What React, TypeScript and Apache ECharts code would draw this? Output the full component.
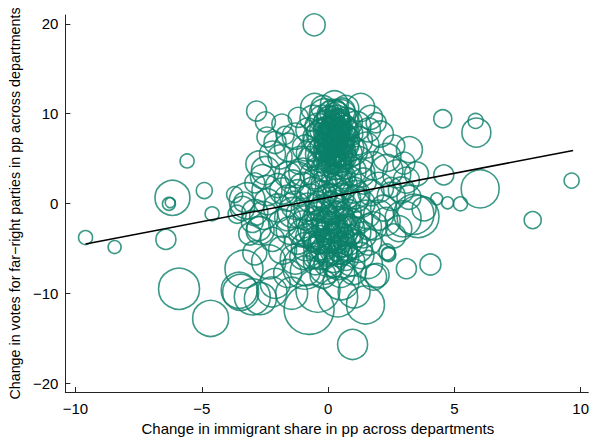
import React, { useEffect, useRef } from "react";
import * as echarts from "echarts";

// Each point: [change in immigrant share (pp), change in far-right vote (pp), department weight]
const outlierDepts: number[][] = [
  [-9.6, -3.8, 7], [-8.45, -4.85, 6.5], [-6.42, -4.0, 10], [-5.58, 4.74, 7], [-4.9, 1.44, 8],
  [-4.59, -1.15, 7], [-6.16, 0.63, 17.5], [-6.3, -0.04, 6.5], [-6.25, 0.1, 5], [-5.9, -9.5, 20.5],
  [-4.65, -12.8, 18], [-0.55, 19.9, 11], [4.54, 9.44, 9], [5.84, 9.2, 7.5], [5.87, 7.9, 14.5],
  [3.22, 6.0, 13], [4.58, 3.19, 10], [6.02, 1.63, 19], [9.64, 2.55, 7.5], [8.1, -1.85, 8.5],
  [4.73, 0.08, 6], [5.24, -0.04, 7], [4.3, 0.52, 6], [3.1, -7.26, 10], [4.05, -6.8, 10.5],
  [2.4, -5.7, 7], [3.56, -1.45, 21], [0.97, -15.7, 15], [1.48, -11.3, 19], [-0.75, -11.8, 25],
  [-3.46, -9.9, 18], [-2.68, -10.6, 16], [-3.33, -7.3, 19], [-3.52, -9.67, 18],
];

const coreTopDepts: number[][] = [
  [0.0, 7.0, 14], [0.2, 7.5, 15], [0.4, 6.8, 13], [0.1, 8.2, 12], [0.3, 8.8, 14], [-0.2, 6.2, 13],
  [0.5, 5.8, 15], [0.0, 5.5, 12], [0.25, 6.3, 16], [0.6, 7.6, 13], [-0.1, 9.0, 12], [0.35, 9.5, 13],
  [0.1, 10.2, 11], [0.55, 8.5, 14], [-0.3, 7.8, 14], [0.15, 4.8, 13], [0.45, 4.5, 12], [-0.25, 5.0, 14],
  [0.7, 6.5, 13], [0.05, 6.6, 15], [0.3, 7.1, 12], [-0.4, 8.6, 13], [0.8, 9.0, 14], [0.2, 9.8, 16],
  [0.65, 5.2, 12], [-0.15, 3.9, 13], [0.4, 3.6, 14], [0.9, 7.8, 12], [-0.5, 6.9, 12], [0.1, 7.9, 17],
  [0.5, 9.9, 15], [-0.05, 8.5, 11], [0.35, 5.3, 11], [0.75, 4.2, 13], [-0.35, 4.4, 12], [0.0, 3.3, 14],
  [0.6, 3.0, 12], [1.0, 5.8, 14], [1.1, 8.6, 15], [-0.6, 9.5, 13], [0.25, 11.0, 14], [0.7, 10.6, 13],
  [-0.2, 10.7, 12], [1.2, 7.0, 14], [-0.7, 5.6, 14], [0.45, 2.5, 13], [0.95, 3.6, 14], [-0.45, 2.8, 13],
];

const coreTopExtraDepts: number[][] = [
  [0.05, 7.3, 13], [0.15, 6.9, 14], [0.35, 7.9, 13], [0.45, 7.2, 15], [-0.05, 7.6, 12], [0.25, 8.5, 13],
  [0.4, 9.1, 12], [0.2, 5.9, 14], [0.55, 6.4, 12], [0.1, 5.1, 15], [0.3, 4.2, 14], [-0.1, 6.0, 12],
  [0.6, 8.0, 16], [0.0, 8.8, 15], [0.35, 10.0, 12], [-0.2, 9.4, 14], [0.7, 9.4, 12], [0.5, 4.9, 13],
  [-0.3, 5.5, 15], [0.15, 3.8, 15], [0.8, 5.5, 14], [0.65, 7.0, 15], [-0.4, 7.3, 15], [0.3, 6.0, 17],
  [0.1, 9.3, 14], [0.45, 8.3, 11], [0.2, 7.0, 10], [0.0, 6.3, 11], [0.55, 10.3, 13], [-0.15, 10.0, 15],
  [0.9, 6.2, 13], [0.25, 4.6, 12], [-0.25, 8.2, 12], [0.75, 8.2, 11], [0.4, 5.6, 14], [0.05, 4.3, 12],
];

const coreTopDenseDepts: number[][] = [
  [0.12, 7.15, 9], [0.28, 7.65, 10], [0.38, 6.45, 9], [0.18, 8.55, 10], [0.48, 7.85, 9], [0.08, 6.15, 10],
  [0.32, 5.65, 9], [0.52, 8.95, 10], [0.22, 9.05, 9], [-0.02, 7.95, 10], [0.42, 6.05, 11], [0.62, 6.85, 10],
  [0.15, 5.45, 11], [0.35, 8.25, 8], [0.05, 8.35, 9], [-0.12, 6.75, 10], [0.58, 5.35, 10], [0.25, 4.95, 10],
  [0.45, 9.55, 9], [0.02, 9.65, 11], [0.7, 7.95, 9], [0.3, 10.45, 10], [-0.18, 5.75, 9], [0.5, 4.25, 11],
  [0.22, 7.35, 12], [0.38, 7.05, 11], [0.12, 7.75, 11], [0.28, 6.75, 12],
  [0.18, 6.55, 7], [0.33, 7.35, 6], [0.24, 8.05, 7], [0.42, 8.65, 6], [0.1, 5.85, 7], [0.47, 6.55, 7],
  [0.28, 5.25, 8], [0.06, 7.05, 6], [0.54, 7.45, 7], [0.16, 9.45, 8], [0.36, 9.85, 7], [-0.05, 8.15, 7],
  [0.62, 8.25, 8], [0.2, 4.45, 8], [0.4, 4.85, 7], [0.02, 5.25, 8],
];

const leftUpperDepts: number[][] = [
  [-2.83, 10.3, 10], [-2.48, 9.1, 10], [-2.42, 7.4, 10], [-2.74, 4.4, 13], [-2.48, 3.67, 14],
  [-1.83, 8.85, 10], [-1.57, 6.26, 14], [-1.18, 9.6, 10], [-0.53, 10.7, 14], [-1.3, 7.5, 13],
  [-1.9, 5.2, 12], [-1.1, 4.8, 14], [-1.6, 3.2, 13], [-0.9, 6.2, 13], [-1.4, 2.4, 12],
  [-2.1, 6.8, 11], [-0.8, 8.2, 12], [-1.0, 3.5, 14], [-2.0, 2.0, 12], [-1.7, 7.6, 9],
  [-2.2, 5.5, 13], [-0.7, 5.0, 12], [-1.2, 1.2, 13],
];

const rightUpperDepts: number[][] = [
  [2.07, 7.74, 13], [1.68, 9.6, 12], [1.29, 10.7, 14], [2.33, 5.14, 14], [2.72, 3.3, 14],
  [2.33, 3.67, 16], [3.5, 3.3, 12], [1.5, 6.5, 13], [1.8, 4.2, 14], [1.4, 2.5, 13],
  [2.0, 1.8, 15], [1.6, 8.2, 12], [2.6, 6.4, 11], [1.2, 4.8, 14], [2.9, 1.5, 13],
  [1.9, 9.0, 10], [3.0, 4.5, 11], [1.1, 1.0, 14], [2.5, 0.8, 14],
];

const leftMidDepts: number[][] = [
  [-3.2, 0.3, 18], [-3.33, 0.15, 10], [-3.39, -0.55, 12], [-2.55, -1.33, 14], [-2.74, -2.8, 12],
  [-2.42, 1.44, 15], [-2.69, -3.0, 14], [-3.6, -1.2, 9], [-2.0, -0.5, 14], [-1.6, 0.6, 13],
  [-1.8, -2.2, 14], [-3.0, -2.0, 11], [-2.2, -4.0, 12], [-1.4, -1.0, 15], [-3.7, 1.0, 8],
  [-2.9, 2.3, 10], [-2.9, -1.0, 13], [-3.1, -3.4, 11], [-2.6, 3.0, 12],
];

const coreLowDepts: number[][] = [
  [0.0, 0.5, 15], [0.3, -0.5, 14], [-0.3, -1.2, 16], [0.5, -2.0, 15], [0.1, -2.8, 14], [-0.5, -3.4, 15],
  [0.4, -3.8, 16], [0.8, -1.0, 13], [-0.8, -0.4, 14], [-1.0, -2.5, 15], [0.9, -3.0, 14], [-0.2, -4.6, 15],
  [0.6, -5.2, 14], [-0.7, -5.5, 16], [0.2, -6.0, 15], [1.0, -4.5, 14], [-1.2, -4.2, 13], [0.0, -1.8, 12],
  [0.35, 1.2, 14], [-0.6, 1.5, 13], [0.7, 0.4, 15], [-0.4, 0.0, 12], [1.2, -1.8, 14], [-1.3, -6.2, 15],
  [0.9, -6.5, 14], [-0.1, -7.2, 16], [0.5, -7.8, 14], [-0.9, -7.5, 15], [1.3, -5.8, 13], [0.15, -3.3, 17],
  [-0.15, 2.2, 13], [0.6, 2.0, 14], [1.4, -3.5, 13], [-1.5, -3.0, 14], [0.3, -4.2, 12], [-0.35, -2.2, 13],
  [0.75, -2.5, 12], [1.1, 0.5, 13], [-0.9, -1.6, 12], [0.05, -5.4, 13], [-0.5, -6.6, 12], [1.0, -7.6, 13],
];

const coreLowExtraDepts: number[][] = [
  [0.1, -0.2, 14], [0.4, -1.4, 15], [-0.1, -2.4, 14], [0.2, -3.6, 13], [0.6, -3.0, 15], [-0.4, -4.0, 14],
  [0.3, -5.0, 16], [-0.3, -5.8, 14], [0.7, -6.0, 13], [0.0, -6.6, 14], [-0.6, -2.8, 15], [0.9, -2.0, 13],
  [-0.2, -0.6, 14], [0.5, 0.8, 13], [-0.7, 0.6, 14], [0.2, 1.6, 15], [-0.5, -1.8, 13], [0.8, -4.2, 14],
  [-0.9, -4.8, 14], [0.4, -6.8, 15], [-0.2, -8.0, 13], [0.6, -4.6, 12], [-0.1, -3.8, 16], [0.25, -2.2, 17],
  [-0.8, -3.6, 12], [1.1, -3.2, 15], [-1.1, -1.2, 14], [0.0, -4.2, 11], [0.45, -5.6, 13], [-0.45, -5.0, 13],
  [1.2, -5.0, 14], [-1.0, -5.9, 13], [0.15, -1.0, 12], [-0.25, 1.0, 14], [0.65, -0.2, 12], [1.0, 1.5, 13],
  [-1.0, 2.0, 13], [0.3, 2.6, 14], [-0.55, 3.2, 14], [0.8, 2.8, 13],
];

const coreLowDenseDepts: number[][] = [
  [0.05, -1.3, 10], [0.35, -2.6, 11], [-0.15, -3.1, 10], [0.55, -3.5, 11], [0.15, -4.4, 10], [-0.35, -4.4, 11],
  [0.45, -4.9, 10], [0.0, -5.8, 11], [-0.25, -1.6, 11], [0.65, -1.6, 10], [0.25, 0.3, 11], [-0.45, -0.8, 10],
  [0.85, -3.6, 11], [-0.6, -4.2, 10], [0.2, -7.0, 11], [0.75, -5.4, 10], [-0.55, -6.0, 11], [0.1, -2.0, 9],
  [0.4, -0.9, 10], [-0.05, 0.9, 10], [0.3, -3.0, 12], [-0.2, -5.2, 12],
  [0.2, -2.9, 7], [0.5, -4.2, 8], [-0.1, -4.0, 7], [0.35, -5.6, 8], [0.6, -2.3, 7], [-0.3, -2.6, 8],
];

const midRingDepts: number[][] = [
  [-1.3, -0.2, 14], [1.3, 0.0, 14], [-1.6, -1.6, 13], [1.5, -1.2, 14], [-1.2, 3.2, 13], [1.3, 3.4, 14],
  [-1.8, 1.4, 13], [1.7, 1.2, 13], [-2.4, 0.2, 13], [2.3, -2.0, 14], [-1.0, -3.3, 14], [1.6, -2.6, 13],
];

const lowerDepts: number[][] = [
  [-0.92, -7.1, 22], [-2.35, -6.5, 17], [-2.22, -9.85, 15], [-3.0, -10.4, 18], [-2.09, -8.9, 15],
  [-0.4, -9.67, 22], [0.38, -10.4, 20], [1.8, -8.2, 13], [1.03, -9.85, 16], [1.94, -8.0, 12],
  [0.51, -8.74, 18], [-1.44, -10.0, 16], [-1.6, -7.8, 14], [-2.9, -5.5, 12], [-1.8, -5.2, 14],
  [2.39, -5.6, 7], [1.6, -6.8, 14],
];

const rightMidDepts: number[][] = [
  [2.97, -1.7, 18], [3.4, -1.2, 20], [2.33, -5.4, 8], [1.8, -2.5, 14], [2.2, -0.5, 13],
  [1.6, -4.3, 13], [2.6, -3.6, 12], [3.2, 0.7, 12], [2.0, -1.3, 15], [3.8, -0.6, 12],
  [2.5, 1.8, 10], [2.8, -2.8, 13], [3.1, 2.6, 13],
];

// Fitted regression line end points
const fitX = [-9.6, 9.7];
const fitY = [-4.5, 5.9];

const xTicks = [-10, -5, 0, 5, 10];
const yTicks = [-20, -10, 0, 10, 20];

const TEAL = "#0b8069";
const FONT = "Liberation Sans";

export default function App() {
  const ref = useRef<HTMLDivElement>(null);
  useEffect(() => {
    if (!ref.current) return;
    const chart = echarts.init(ref.current, null, { renderer: "svg" });
    const allDepts = [
      ...outlierDepts, ...coreTopDepts, ...coreTopExtraDepts, ...coreTopDenseDepts,
      ...leftUpperDepts, ...rightUpperDepts, ...leftMidDepts, ...coreLowDepts,
      ...coreLowExtraDepts, ...coreLowDenseDepts, ...midRingDepts, ...lowerDepts,
      ...rightMidDepts,
    ];
    const minus = (v: number) => String(v).replace("-", "\u2212");
    const axisCommon = {
      type: "value" as const,
      splitLine: { show: false },
      axisLine: { show: true, onZero: false, lineStyle: { color: "#222", width: 1 } },
      axisTick: { show: true, inside: true, length: 5, lineStyle: { color: "#222", width: 1 } },
      nameLocation: "middle" as const,
    };
    chart.setOption({
      animation: false,
      grid: { left: 62, right: 3, top: 15, bottom: 48 },
      xAxis: {
        ...axisCommon,
        min: -10.4,
        max: 10.3,
        name: "Change in immigrant share in pp across departments",
        nameGap: 29,
        nameTextStyle: { fontFamily: FONT, fontSize: 15, color: "#000", padding: [0, 18, 0, 0] },
        axisTick: { ...axisCommon.axisTick, customValues: xTicks },
        axisLabel: {
          customValues: xTicks, formatter: minus, margin: 9,
          fontFamily: FONT, fontSize: 15, color: "#000",
        },
      },
      yAxis: {
        ...axisCommon,
        min: -21,
        max: 21,
        name: "Change in votes for far\u2212right parties in pp across departments",
        nameGap: 37,
        nameTextStyle: { fontFamily: FONT, fontSize: 14.3, color: "#000" },
        axisTick: { ...axisCommon.axisTick, customValues: yTicks },
        axisLabel: {
          customValues: yTicks, formatter: minus, margin: 7,
          fontFamily: FONT, fontSize: 15, color: "#000",
        },
      },
      series: [
        {
          type: "scatter",
          data: allDepts,
          symbol: "circle",
          symbolSize: (d: number[]) => d[2] * 2,
          itemStyle: { color: "rgba(0,0,0,0)", borderColor: TEAL, borderWidth: 1.6 },
          z: 2,
        },
        {
          type: "line",
          data: fitX.map((x, i) => [x, fitY[i]]),
          symbol: "none",
          lineStyle: { color: "#000", width: 1.5 },
          z: 3,
        },
      ],
    });
    return () => chart.dispose();
  }, []);
  return (
    <div
      ref={ref}
      style={{ position: "fixed", left: 0, top: 0, width: 592, height: 441, background: "#fff" }}
    />
  );
}
